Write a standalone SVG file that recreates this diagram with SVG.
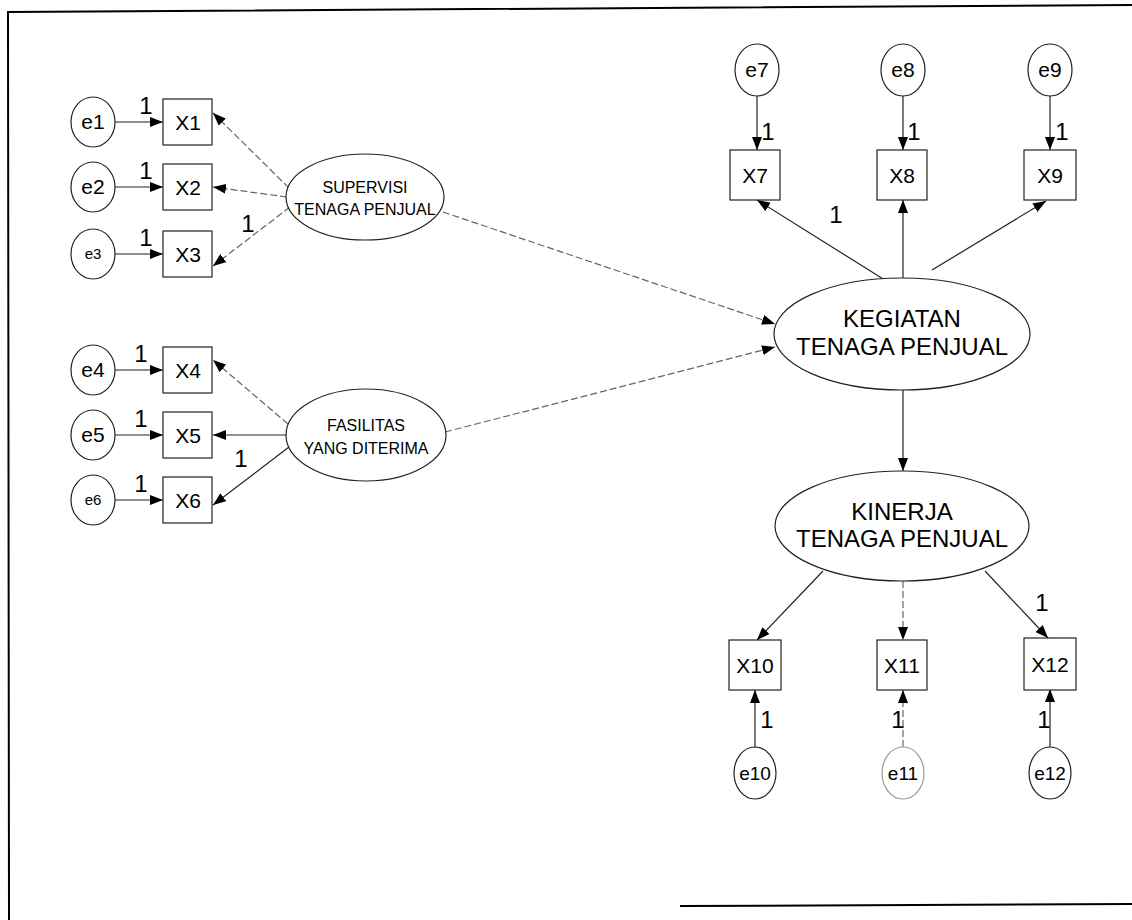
<svg xmlns="http://www.w3.org/2000/svg" width="1132" height="920" viewBox="0 0 1132 920">
<defs>
<marker id="ah" viewBox="0 0 13 10" refX="13" refY="5" markerWidth="13" markerHeight="10" markerUnits="userSpaceOnUse" orient="auto">
<path d="M0,0 L13,5 L0,10 Z" fill="#000"/>
</marker>
</defs>
<style>
.frame{fill:none;stroke:#000;stroke-width:2}
.node ellipse,.node rect{fill:#fff;stroke:#222;stroke-width:1.2}
.lbl{font-family:"Liberation Sans",Arial,sans-serif;font-size:21px;fill:#000;text-anchor:middle}
.sm{font-size:15px}
.lo{font-size:19px}
.mid{font-size:16px}
.big{font-size:24px}
.one{font-family:"Liberation Sans",Arial,sans-serif;font-size:24px;fill:#000;text-anchor:middle}
.conn line{stroke:#222;stroke-width:1.2;marker-end:url(#ah)}
.conn line.faint{stroke:#666;stroke-dasharray:7 3}
</style>
<rect width="1132" height="920" fill="#fff"/>
<path class="frame" d="M1132,5 L8,12 L9,920"/>
<path class="frame" d="M680,906 L1132,904"/>

<g class="conn">
<line x1="115" y1="122" x2="163" y2="122"/>
<line x1="115" y1="187" x2="163" y2="187"/>
<line x1="115" y1="254" x2="163" y2="254"/>
<line x1="115" y1="370" x2="163" y2="370"/>
<line x1="115" y1="435" x2="163" y2="435"/>
<line x1="115" y1="500" x2="163" y2="500"/>
<line class="faint" x1="289" y1="188" x2="213" y2="113"/>
<line class="faint" x1="287" y1="197" x2="213" y2="187"/>
<line class="faint" x1="290" y1="207" x2="213" y2="266"/>
<line class="faint" x1="288" y1="424" x2="213" y2="360"/>
<line x1="286" y1="435" x2="213" y2="435"/>
<line x1="289" y1="447" x2="213" y2="505"/>
<line class="faint" x1="443" y1="212" x2="775" y2="324"/>
<line class="faint" x1="445" y1="432" x2="775" y2="347"/>
<line x1="757" y1="96" x2="757" y2="150"/>
<line x1="903" y1="96" x2="903" y2="150"/>
<line x1="1050" y1="96" x2="1050" y2="150"/>
<line x1="888" y1="282" x2="757" y2="200"/>
<line x1="903" y1="282" x2="903" y2="200"/>
<line x1="932" y1="270" x2="1046" y2="201"/>
<line x1="903" y1="390" x2="903" y2="471"/>
<line x1="823" y1="571" x2="757" y2="640"/>
<line class="faint" x1="903" y1="581" x2="903" y2="640"/>
<line x1="985" y1="571" x2="1048" y2="638"/>
<line x1="755" y1="747" x2="755" y2="690"/>
<line class="faint" x1="903" y1="747" x2="903" y2="690"/>
<line x1="1050" y1="747" x2="1050" y2="689"/>
</g>

<g class="one">
<text x="146" y="114">1</text>
<text x="146" y="179">1</text>
<text x="146" y="246">1</text>
<text x="248" y="232">1</text>
<text x="141" y="362">1</text>
<text x="141" y="427">1</text>
<text x="141" y="492">1</text>
<text x="241" y="467">1</text>
<text x="768" y="140">1</text>
<text x="914" y="140">1</text>
<text x="1062" y="140">1</text>
<text x="836" y="223">1</text>
<text x="1042" y="611">1</text>
<text x="767" y="728">1</text>
<text x="898" y="728">1</text>
<text x="1044" y="728">1</text>
</g>

<g id="e1" class="node"><ellipse cx="93" cy="122" rx="22" ry="25"/><text class="lbl" x="93" y="129">e1</text></g>
<g id="e2" class="node"><ellipse cx="93" cy="187" rx="22" ry="25"/><text class="lbl" x="93" y="194">e2</text></g>
<g id="e3" class="node"><ellipse cx="93" cy="254" rx="22" ry="25"/><text class="lbl sm" x="93" y="259">e3</text></g>
<g id="e4" class="node"><ellipse cx="93" cy="370" rx="22" ry="25"/><text class="lbl" x="93" y="377">e4</text></g>
<g id="e5" class="node"><ellipse cx="93" cy="435" rx="22" ry="25"/><text class="lbl" x="93" y="442">e5</text></g>
<g id="e6" class="node"><ellipse cx="93" cy="500" rx="22" ry="25"/><text class="lbl sm" x="93" y="505">e6</text></g>

<g id="X1" class="node"><rect x="163" y="99" width="49" height="46"/><text class="lbl" x="188" y="130">X1</text></g>
<g id="X2" class="node"><rect x="163" y="164" width="49" height="46"/><text class="lbl" x="188" y="195">X2</text></g>
<g id="X3" class="node"><rect x="163" y="231" width="49" height="46"/><text class="lbl" x="188" y="262">X3</text></g>
<g id="X4" class="node"><rect x="163" y="347" width="49" height="46"/><text class="lbl" x="188" y="378">X4</text></g>
<g id="X5" class="node"><rect x="163" y="412" width="49" height="46"/><text class="lbl" x="188" y="443">X5</text></g>
<g id="X6" class="node"><rect x="163" y="477" width="49" height="46"/><text class="lbl" x="188" y="508">X6</text></g>

<g id="supervisi" class="node"><ellipse cx="365" cy="197" rx="79" ry="43"/><text class="lbl mid" x="365" y="193">SUPERVISI</text><text class="lbl mid" x="365" y="215">TENAGA PENJUAL</text></g>
<g id="fasilitas" class="node"><ellipse cx="366" cy="435" rx="80" ry="46"/><text class="lbl mid" x="366" y="431">FASILITAS</text><text class="lbl mid" x="366" y="454">YANG DITERIMA</text></g>
<g id="kegiatan" class="node"><ellipse cx="902" cy="334" rx="128" ry="56"/><text class="lbl big" x="902" y="327">KEGIATAN</text><text class="lbl big" x="902" y="355">TENAGA PENJUAL</text></g>
<g id="kinerja" class="node"><ellipse cx="902" cy="526" rx="127" ry="55"/><text class="lbl big" x="902" y="520">KINERJA</text><text class="lbl big" x="902" y="547">TENAGA PENJUAL</text></g>

<g id="e7" class="node"><ellipse cx="757" cy="70" rx="22" ry="26"/><text class="lbl" x="757" y="77">e7</text></g>
<g id="e8" class="node"><ellipse cx="903" cy="70" rx="22" ry="26"/><text class="lbl" x="903" y="77">e8</text></g>
<g id="e9" class="node"><ellipse cx="1050" cy="70" rx="22" ry="26"/><text class="lbl" x="1050" y="77">e9</text></g>

<g id="X7" class="node"><rect x="730" y="150" width="50" height="50"/><text class="lbl" x="755" y="183">X7</text></g>
<g id="X8" class="node"><rect x="877" y="150" width="50" height="50"/><text class="lbl" x="902" y="183">X8</text></g>
<g id="X9" class="node"><rect x="1024" y="150" width="52" height="50"/><text class="lbl" x="1050" y="183">X9</text></g>

<g id="X10" class="node"><rect x="729" y="640" width="52" height="50"/><text class="lbl" x="755" y="673">X10</text></g>
<g id="X11" class="node"><rect x="877" y="640" width="50" height="50"/><text class="lbl" x="902" y="673">X11</text></g>
<g id="X12" class="node"><rect x="1024" y="638" width="52" height="52"/><text class="lbl" x="1050" y="672">X12</text></g>

<g id="e10" class="node"><ellipse cx="755" cy="773" rx="21" ry="26"/><text class="lbl lo" x="755" y="780">e10</text></g>
<g id="e11" class="node"><ellipse cx="903" cy="773" rx="21" ry="26" style="stroke:#999"/><text class="lbl lo" x="903" y="780">e11</text></g>
<g id="e12" class="node"><ellipse cx="1050" cy="773" rx="21" ry="26"/><text class="lbl lo" x="1050" y="780">e12</text></g>
</svg>
